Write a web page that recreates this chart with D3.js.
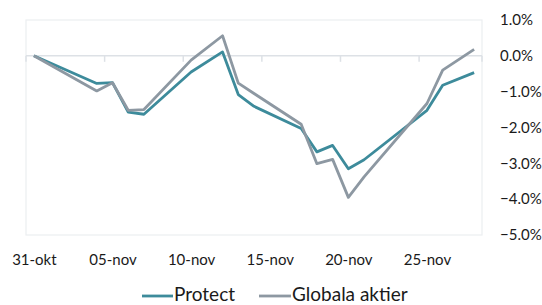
<!DOCTYPE html>
<html>
<head>
<meta charset="utf-8">
<script src="https://cdn.jsdelivr.net/npm/d3@7/dist/d3.min.js"></script>
<style>
  body { margin: 0; background: #fff; }
  text { font-family: "Lato", "Open Sans", sans-serif; fill: #1a1a1a; }
</style>
</head>
<body>
<svg id="chart"></svg>
<script>
// data, in percent
const dates = ["2019-10-31", "2019-11-04", "2019-11-05", "2019-11-06", "2019-11-07", "2019-11-10",
  "2019-11-12", "2019-11-13", "2019-11-14", "2019-11-17", "2019-11-18", "2019-11-19", "2019-11-20",
  "2019-11-21", "2019-11-25", "2019-11-26", "2019-11-28"];
const protect = [0, -0.77, -0.75, -1.57, -1.63, -0.45, 0.11, -1.08, -1.41, -2.03, -2.68, -2.50, -3.15,
  -2.90, -1.52, -0.82, -0.47];
const globala = [0, -0.98, -0.75, -1.52, -1.50, -0.12, 0.56, -0.76, -1.05, -1.91, -3.01, -2.89, -3.95,
  -3.38, -1.33, -0.40, 0.18];
const yTicks = [1, 0, -1, -2, -3, -4, -5];
const xLabelDates = ["2019-10-31", "2019-11-05", "2019-11-10", "2019-11-15", "2019-11-20", "2019-11-25"];
const xLabels = ["31-okt", "05-nov", "10-nov", "15-nov", "20-nov", "25-nov"];
const seriesNames = ["Protect", "Globala aktier"];
const seriesColors = ["#3d8b9b", "#8d98a2"];

const width = 542, height = 305;
const margin = { top: 20, right: 60, bottom: 70, left: 26 };
const DAY = 864e5;
const parse = d3.utcParse("%Y-%m-%d");

const svg = d3.select("#chart").attr("width", width).attr("height", height);

const first = parse(dates[0]), last = parse(dates[dates.length - 1]);
const x = d3.scaleUtc()
  .domain([new Date(+first - DAY / 2), new Date(+last + DAY / 2)])
  .range([margin.left, width - margin.right]);
const y = d3.scaleLinear()
  .domain([-5, 1])
  .range([height - margin.bottom, margin.top]);

// plot box
svg.append("rect")
  .attr("x", x.range()[0]).attr("y", y(1))
  .attr("width", x.range()[1] - x.range()[0]).attr("height", y(-5) - y(1))
  .attr("fill", "none").attr("stroke", "#eceef1").attr("stroke-width", 1.2);

// zero line with category boundary ticks
svg.append("line")
  .attr("x1", x.range()[0]).attr("x2", x.range()[1])
  .attr("y1", y(0)).attr("y2", y(0))
  .attr("stroke", "#dde1e6").attr("stroke-width", 1.5);

const boundaries = [parse("2019-10-31"), ...xLabelDates.slice(1).map(parse), new Date(+last + DAY)]
  .map(d => new Date(+d - DAY / 2));
svg.append("g").selectAll("line").data(boundaries).join("line")
  .attr("x1", d => x(d)).attr("x2", d => x(d))
  .attr("y1", y(0)).attr("y2", y(0) + 6)
  .attr("stroke", "#dde1e6").attr("stroke-width", 1.5);

// y labels on the right
svg.append("g").selectAll("text").data(yTicks).join("text")
  .attr("x", 500)
  .attr("y", d => y(d))
  .attr("dy", "0.35em")
  .attr("font-size", 15)
  .text(d => d3.format(".1f")(d) + "%");

// x labels
const xAxis = d3.axisBottom(x)
  .tickValues(xLabelDates.map(parse))
  .tickFormat((d, i) => xLabels[i])
  .tickSize(0)
  .tickPadding(0);
const gx = svg.append("g")
  .attr("transform", `translate(0,${y(-5) + 30})`)
  .call(xAxis);
gx.select(".domain").remove();
gx.selectAll("text").attr("font-size", 15).attr("font-family", null).attr("dy", "0").attr("fill", "#1a1a1a");

// lines
const line = d3.line()
  .x((d, i) => x(parse(dates[i])))
  .y(d => y(d));
[protect, globala].forEach((s, k) => {
  svg.append("path")
    .datum(s)
    .attr("d", line)
    .attr("fill", "none")
    .attr("stroke", seriesColors[k])
    .attr("stroke-width", 2.8)
    .attr("stroke-linejoin", "round");
});

// legend
const legendY = 296;
const legendItems = [{ x1: 142, x2: 173, tx: 174 }, { x1: 259, x2: 291, tx: 292 }];
legendItems.forEach((it, k) => {
  svg.append("line")
    .attr("x1", it.x1).attr("x2", it.x2)
    .attr("y1", legendY).attr("y2", legendY)
    .attr("stroke", seriesColors[k]).attr("stroke-width", 2.8);
  svg.append("text")
    .attr("x", it.tx).attr("y", 301)
    .attr("font-size", 19)
    .text(seriesNames[k]);
});
</script>
</body>
</html>
